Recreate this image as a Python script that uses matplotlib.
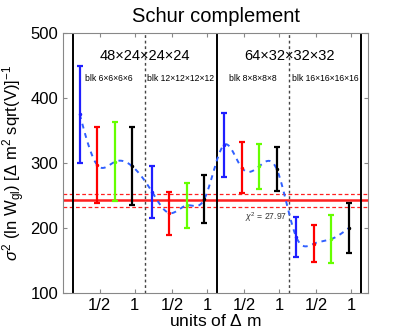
import numpy as np
import matplotlib
matplotlib.use('Agg')
import matplotlib.pyplot as plt

plt.rcParams['font.family'] = ['Liberation Sans', 'DejaVu Sans']
plt.rcParams['mathtext.fontset'] = 'custom'
plt.rcParams['mathtext.rm'] = 'Liberation Sans'
plt.rcParams['mathtext.it'] = 'Liberation Sans:italic'
plt.rcParams['mathtext.sf'] = 'Liberation Sans'

# data
lattices = ['48\u00d724\u00d724\u00d724', '64\u00d732\u00d732\u00d732']
blocks = ['blk 6\u00d76\u00d76\u00d76', 'blk 12\u00d712\u00d712\u00d712',
          'blk 8\u00d78\u00d78\u00d78', 'blk 16\u00d716\u00d716\u00d716']
m_frac = [0.25, 0.5, 0.75, 1.0]
colors = ['#1f1fff', '#ff0000', '#66ff00', '#000000']

# rows = block setups, columns = m_frac
sigma2 = [[375, 297, 302, 295],
          [256, 223, 235, 245],
          [328, 293, 295, 291],
          [186, 176, 183, 200]]
err = [[75, 58, 61, 60],
       [40, 33, 35, 37],
       [49, 39, 35, 34],
       [31, 29, 37, 38]]

fit_val = 243
fit_err = 10
chi2 = 27.97


def natural_spline(x, y, xs):
    x = np.asarray(x, float)
    y = np.asarray(y, float)
    n = len(x)
    h = np.diff(x)
    A = np.zeros((n, n))
    b = np.zeros(n)
    A[0, 0] = A[-1, -1] = 1
    for i in range(1, n - 1):
        A[i, i - 1] = h[i - 1]
        A[i, i] = 2 * (h[i - 1] + h[i])
        A[i, i + 1] = h[i]
        b[i] = 6 * ((y[i + 1] - y[i]) / h[i] - (y[i] - y[i - 1]) / h[i - 1])
    M = np.linalg.solve(A, b)
    k = np.clip(np.searchsorted(x, xs) - 1, 0, n - 2)
    t0 = x[k + 1] - xs
    t1 = xs - x[k]
    hk = h[k]
    return (M[k] * t0**3 / (6 * hk) + M[k + 1] * t1**3 / (6 * hk)
            + (y[k] / hk - M[k] * hk / 6) * t0
            + (y[k + 1] / hk - M[k + 1] * hk / 6) * t1)


gw = 1.03      # spacing between block groups
shift = -0.035
edge0 = 0.114

fig = plt.figure(figsize=(4.09, 3.32), dpi=100)
ax = fig.add_axes([0.154, 0.1175, 0.746, 0.7825])

xs_all = []
ys_all = []
for g in range(4):
    for j in range(4):
        x = g * gw + m_frac[j] + shift
        xs_all.append(x)
        ys_all.append(sigma2[g][j])

xfine = np.linspace(xs_all[0], xs_all[-1], 600)
ax.plot(xfine, natural_spline(xs_all, ys_all, xfine), color='#3060ff',
        lw=1.4, ls=(0, (2.5, 2.5)), zorder=2)

for g in range(4):
    for j in range(4):
        x = g * gw + m_frac[j] + shift
        ax.errorbar(x, sigma2[g][j], yerr=err[g][j], color=colors[j],
                    lw=1.6, capsize=2, capthick=1.6, marker='.', ms=3,
                    zorder=3)

ax.axhline(fit_val, color='#ff2020', lw=1.8, zorder=1)
ax.axhline(fit_val + fit_err, color='#ff2020', lw=0.9, ls=(0, (3, 2)), zorder=1)
ax.axhline(fit_val - fit_err, color='#ff2020', lw=0.9, ls=(0, (3, 2)), zorder=1)

for k in range(5):
    xe = edge0 + k * gw
    if k % 2 == 0:
        ax.axvline(xe, color='k', lw=1.4, zorder=1)
    else:
        ax.axvline(xe, color='#444444', lw=1.0, ls=(0, (2, 2)), zorder=1)

for i, lab in enumerate(lattices):
    ax.text(edge0 + (2 * i + 1) * gw, 465, lab, ha='center', va='center',
            fontsize=10.5)
for g, lab in enumerate(blocks):
    ax.text(edge0 + g * gw + 0.5 * gw, 430, lab, ha='center', va='center',
            fontsize=6.2)
ax.text(edge0 + 3 * gw - 0.03, 217, r'$\chi^2$ = %.2f' % chi2, ha='right',
        va='center', fontsize=6.2, color='#333333')

ticks = []
labels = []
for g in range(4):
    ticks += [g * gw + 0.5, g * gw + 1.0]
    labels += ['1/2', '1']
ax.set_xticks(ticks)
ax.set_xticklabels(labels)
ax.set_xlim(-0.024, 4.33)
ax.set_ylim(100, 500)
ax.set_yticks([100, 200, 300, 400, 500])
ax.tick_params(direction='in', length=3, labelsize=12, top=True, right=True,
               color='#888888')
for s in ax.spines.values():
    s.set_color('#888888')
    s.set_linewidth(0.8)

ax.set_title('Schur complement', fontsize=14.5, pad=8)
ax.set_xlabel(r'units of $\Delta$ m', fontsize=12.5, labelpad=0)
ax.set_ylabel(r'$\sigma^2$ (ln W$_{\rm gl}$) [$\Delta$ m$^2$ sqrt(V)]$^{-1}$',
              fontsize=12, labelpad=2)

fig.savefig('out.png', dpi=100)
